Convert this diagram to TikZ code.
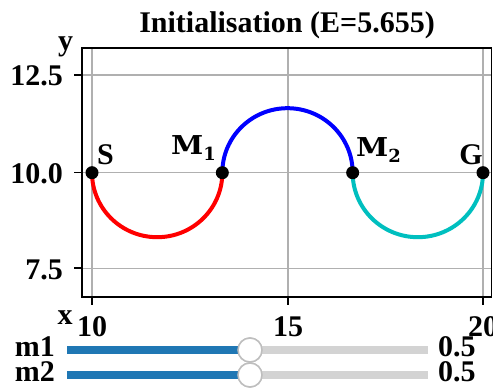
\documentclass[tikz,border=0pt]{standalone}
\usepackage{fontspec}
\usepackage{graphicx}
\setmainfont{Liberation Serif}
\newfontfamily\mfont{DejaVu Serif}
\definecolor{gridgray}{RGB}{176,176,176}
\definecolor{sliderblue}{RGB}{31,119,180}
\definecolor{trackgray}{RGB}{211,211,211}
\definecolor{handlegray}{RGB}{190,190,190}
\definecolor{cyanc}{RGB}{0,191,191}
\begin{document}
\begin{tikzpicture}[x=1pt,y=1pt,
  lbl/.style={font=\fontsize{30}{30}\selectfont\bfseries, inner sep=0pt},
  mlbl/.style={font=\mfont\bfseries, inner sep=0pt},
  gridline/.style={draw=gridgray, line width=1.5pt},
  tickline/.style={draw=black, line width=1.6pt},
  curve/.style={line width=4pt},
  pt/.style={circle, fill=black, inner sep=0pt, minimum size=13pt},
  track/.style={line width=8.3pt, draw=trackgray},
  filled/.style={line width=8.3pt, draw=sliderblue},
  handle/.style={circle, draw=handlegray, line width=1.5pt, fill=white, inner sep=0pt, minimum size=24pt}]
\useasboundingbox (0,0) rectangle (493,390);
\fill[white] (0,0) rectangle (493,390);
% grid
\foreach \gx in {92,288,483} \draw[gridline] (\gx,93) -- (\gx,342);
\foreach \gy in {315,217.3,121.7} \draw[gridline] (82,\gy) -- (491.5,\gy);
% ticks
\foreach \gx in {92,288,483} \draw[tickline] (\gx,93) -- (\gx,85);
\foreach \gy in {315,217.3,121.7} \draw[tickline] (82,\gy) -- (74,\gy);
% frame
\draw[line width=1.8pt] (82,93) rectangle (491.5,342);
% labels
\node[lbl, anchor=base] (title) at (287,357) {Initialisation (E=5.655)};
\node[lbl, anchor=base] (ylab) at (65.5,339) {y};
\node[lbl, anchor=base] (xlab) at (65,65) {x};
\node[lbl, anchor=base east] (y125) at (63,304) {12.5};
\node[lbl, anchor=base east] (y100) at (63,206.3) {10.0};
\node[lbl, anchor=base east] (y75) at (63,110.7) {7.5};
\node[lbl, anchor=base] (x10) at (92,53) {10};
\node[lbl, anchor=base] (x15) at (288,53) {15};
\node[lbl, anchor=base] (x20) at (483,53) {20};
% data
\begin{scope}[x=39.1pt, y=38.7pt, shift={(-299pt,-169.7pt)}]
  \coordinate (S) at (10,10);
  \coordinate (M1) at (13.3333,10);
  \coordinate (M2) at (16.6667,10);
  \coordinate (G) at (20,10);
  \draw[curve, red] (S) arc[start angle=180, end angle=360, radius=1.66667];
  \draw[curve, blue] (M1) arc[start angle=180, end angle=0, radius=1.66667];
  \draw[curve, cyanc] (M2) arc[start angle=180, end angle=360, radius=1.66667];
  \node[pt] (pS) at (S) {};
  \node[pt] (pM1) at (M1) {};
  \node[pt] (pM2) at (M2) {};
  \node[pt] (pG) at (G) {};
\end{scope}
\node[lbl, anchor=base west] (lS) at (97,225) {S};
\node[lbl, anchor=base east] (lG) at (483,225) {G};
\node[mlbl, anchor=base east] (lM1) at (216,235) {\fontsize{26}{26}\selectfont\scalebox{1.12}[1]{M}\raisebox{-6pt}{\fontsize{18}{18}\selectfont 1}};
\node[mlbl, anchor=base west] (lM2) at (356,233) {\fontsize{26}{26}\selectfont\scalebox{1.12}[1]{M}\raisebox{-6pt}{\fontsize{18}{18}\selectfont 2}};
% sliders
\coordinate (a1) at (67,40);
\coordinate (b1) at (428,40);
\coordinate (a2) at (67,15);
\coordinate (b2) at (428,15);
\node[handle] (h1) at (250,40) {};
\node[handle] (h2) at (250,15) {};
\draw[track] (a1) -- (b1);
\draw[track] (a2) -- (b2);
\draw[filled] (a1) -- (h1.center);
\draw[filled] (a2) -- (h2.center);
\node[handle] at (h1) {};
\node[handle] at (h2) {};
\node[lbl, anchor=base east] (m1) at (55,33) {m1};
\node[lbl, anchor=base east] (m2) at (55,8.3) {m2};
\node[lbl, anchor=base west] (v1) at (438,33) {0.5};
\node[lbl, anchor=base west] (v2) at (438,8.3) {0.5};
\end{tikzpicture}
\end{document}
